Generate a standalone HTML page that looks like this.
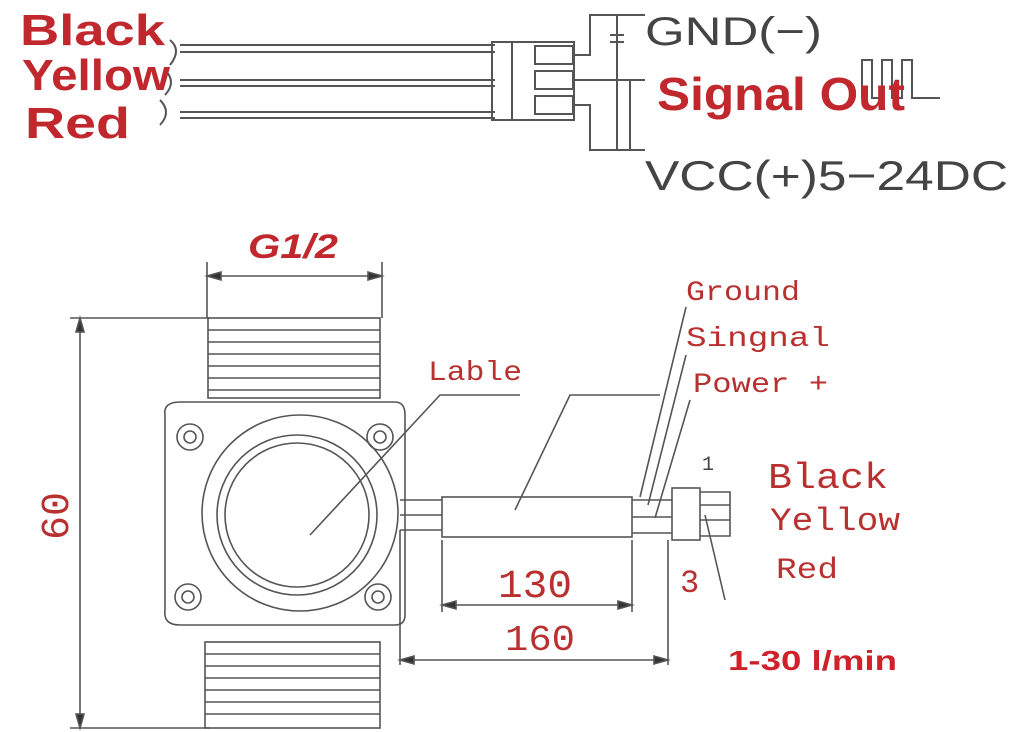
<!DOCTYPE html>
<html><head><style>body{margin:0;background:#fff}svg{display:block}</style></head><body>
<svg width="1021" height="732" viewBox="0 0 1021 732" xmlns="http://www.w3.org/2000/svg" font-family="Liberation Sans, sans-serif">
<g stroke="#555" stroke-width="2" fill="none">
<path d="M180 45H495M180 52H495M180 80H495M180 86H495M180 112H495M180 118H495"/>
<path d="M170 40q12 10 0 25M165 70q12 12 0 25M160 100q12 12 0 25"/>
<rect x="492" y="42" width="82" height="78"/>
<line x1="512" y1="42" x2="512" y2="120"/>
<rect x="535" y="46" width="38" height="18"/><rect x="535" y="71" width="38" height="18"/><rect x="535" y="96" width="38" height="18"/>
<path d="M574 55H590V15H645M574 80H645M574 105H590V150H645M617 15V150"/>
<path d="M610 35H624M610 42H624M630 80V150"/>
<path d="M862 98V60H872V98H882V60H892V98H902V60H912V98H940"/>
</g>
<text x="20" y="45" font-size="44" font-weight="bold" fill="#c0282d" textLength="145" lengthAdjust="spacingAndGlyphs">Black</text>
<text x="22" y="90" font-size="44" font-weight="bold" fill="#c0282d" textLength="148" lengthAdjust="spacingAndGlyphs">Yellow</text>
<text x="25" y="138" font-size="44" font-weight="bold" fill="#c0282d" textLength="105" lengthAdjust="spacingAndGlyphs">Red</text>
<text x="645" y="45" font-size="40" fill="#444" textLength="177" lengthAdjust="spacingAndGlyphs">GND(−)</text>
<text x="657" y="110" font-size="46" font-weight="bold" fill="#c0282d" textLength="248" lengthAdjust="spacingAndGlyphs">Signal Out</text>
<text x="645" y="190" font-size="42" fill="#444" textLength="363" lengthAdjust="spacingAndGlyphs">VCC(+)5−24DC</text>

<g stroke="#555" stroke-width="1.6" fill="none">
<path d="M207 262V318M382 262V318M207 276H382"/>
<path d="M207 276l14-4v8zM382 276l-14-4v8z" fill="#333"/>
<path d="M70 318H210M70 728H210M80 318V728"/>
<path d="M80 318l-4 14h8zM80 728l-4-14h8z" fill="#333"/>
<rect x="208" y="318" width="172" height="80"/>
<path d="M208 330H380M208 342H380M208 354H380M208 366H380M208 378H380M208 390H380"/>
<rect x="205" y="642" width="175" height="86"/>
<path d="M205 654H380M205 666H380M205 678H380M205 690H380M205 702H380M205 714H380"/>
<path d="M180 402H395Q405 402 405 415V615Q405 625 395 625H180Q163 625 165 610V415Q163 402 180 402Z"/>
<circle cx="300" cy="513" r="98"/><circle cx="297" cy="515" r="80"/><circle cx="297" cy="515" r="72"/>
<circle cx="190" cy="437" r="13"/><circle cx="190" cy="437" r="6"/>
<circle cx="380" cy="437" r="13"/><circle cx="380" cy="437" r="6"/>
<circle cx="188" cy="597" r="13"/><circle cx="188" cy="597" r="6"/>
<circle cx="378" cy="597" r="13"/><circle cx="378" cy="597" r="6"/>
<path d="M400 500H442M400 515H442M400 530H442"/>
<rect x="442" y="497" width="190" height="40"/>
<path d="M632 500H672M632 517H672M632 533H672"/>
<rect x="672" y="488" width="28" height="52"/>
<path d="M700 492H730V536H700M700 505H730M700 520H730"/>
<path d="M442 540V612M632 540V612M400 530V665M668 540V665"/>
<path d="M442 605H632M400 660H668"/>
<path d="M442 605l14-4v8zM632 605l-14-4v8zM400 660l14-4v8zM668 660l-14-4v8z" fill="#333"/>
<path d="M520 395H440L310 535M660 395H570L515 510"/>
<path d="M686 307L640 497M686 355L648 505M690 400L655 518M705 515L725 600"/>
</g>
<g font-family="Liberation Mono, monospace" fill="#b83030">
<text x="248" y="258" font-family="Liberation Sans, sans-serif" font-size="34" font-weight="bold" font-style="italic" fill="#c0282d" textLength="90" lengthAdjust="spacingAndGlyphs">G1/2</text>
<text x="428" y="380" font-size="28" textLength="94" lengthAdjust="spacingAndGlyphs">Lable</text>
<text x="686" y="300" font-size="28" textLength="114" lengthAdjust="spacingAndGlyphs">Ground</text>
<text x="686" y="346" font-size="28" textLength="144" lengthAdjust="spacingAndGlyphs">Singnal</text>
<text x="693" y="392" font-size="28" textLength="135" lengthAdjust="spacingAndGlyphs">Power +</text>
<text x="768" y="488" font-size="36" textLength="120" lengthAdjust="spacingAndGlyphs">Black</text>
<text x="770" y="530" font-size="32" textLength="130" lengthAdjust="spacingAndGlyphs">Yellow</text>
<text x="776" y="578" font-size="30" textLength="62" lengthAdjust="spacingAndGlyphs">Red</text>
<text x="498" y="597" font-size="40" textLength="74" lengthAdjust="spacingAndGlyphs">130</text>
<text x="505" y="650" font-size="36" textLength="70" lengthAdjust="spacingAndGlyphs">160</text>
<text x="680" y="592" font-size="32">3</text>
<text x="702" y="470" font-size="20" fill="#444">1</text>
<text transform="translate(68 540) rotate(-90)" font-size="40">60</text>
</g>
<text x="728" y="670" font-size="28" font-weight="bold" fill="#d0202a" textLength="169" lengthAdjust="spacingAndGlyphs">1-30 l/min</text>
</svg>
</body></html>
